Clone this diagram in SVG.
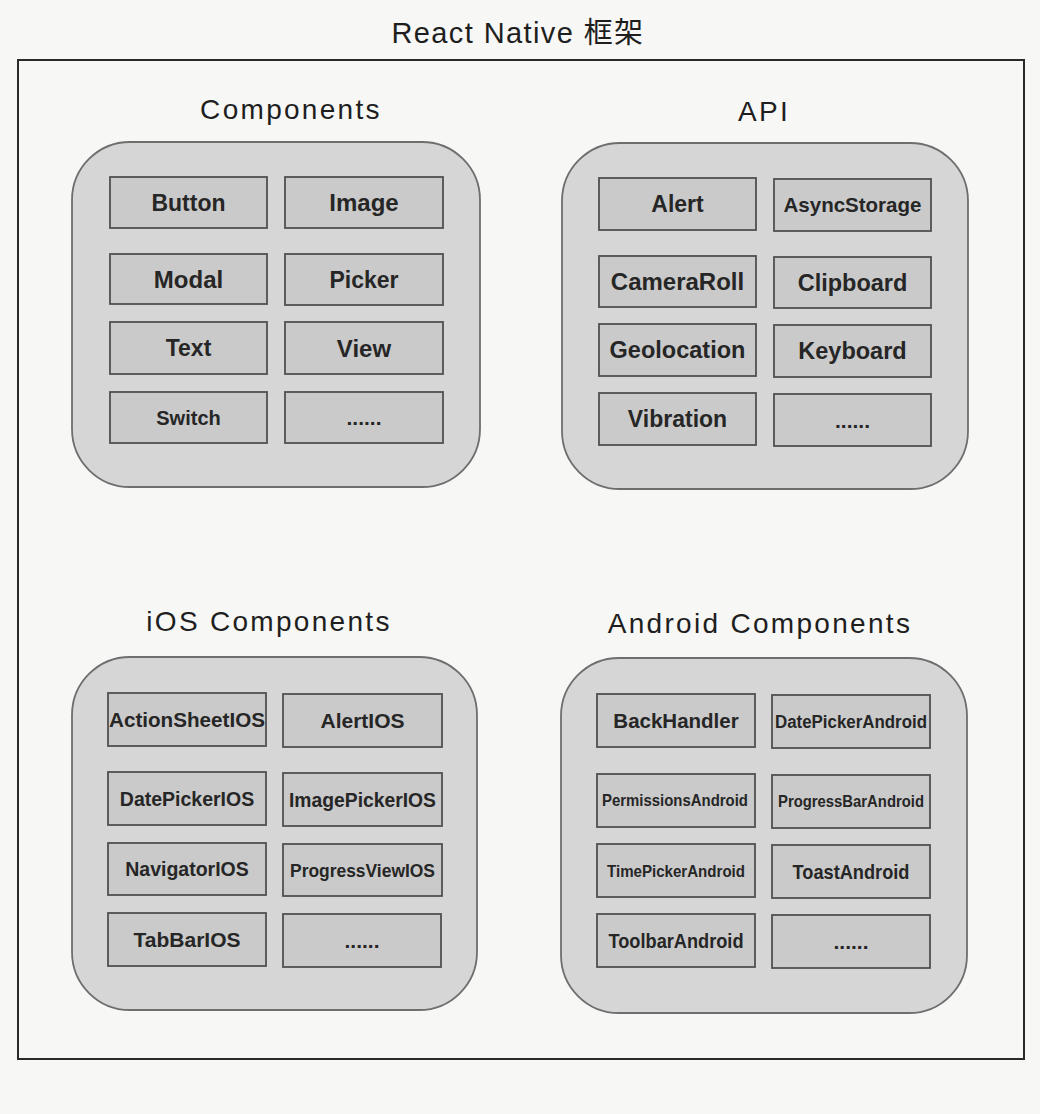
<svg xmlns="http://www.w3.org/2000/svg" width="1040" height="1114" viewBox="0 0 1040 1114">
<style>
.page{fill:#f7f7f5}
.frame{fill:none;stroke:#2a2a2a;stroke-width:2}
.title{font-family:"Liberation Sans","Noto Sans CJK SC",Arial,sans-serif;font-size:29px;fill:#1e1e1e;text-anchor:middle;letter-spacing:1.4px}
.head{font-family:"Liberation Sans",Arial,sans-serif;font-size:28px;fill:#1e1e1e;text-anchor:middle;letter-spacing:2.3px}
.grp{fill:#d6d6d6;stroke:#6e6e6e;stroke-width:1.8}
.box{fill:#cacaca;stroke:#505050;stroke-width:1.8}
.lbl{font-family:"Liberation Sans",Arial,sans-serif;font-weight:bold;fill:#262626;text-anchor:middle}
</style>
<rect class="page" x="0" y="0" width="1040" height="1114"/>
<text class="title" x="518" y="43">React Native 框架</text>
<rect id="framework" class="frame" x="18" y="60" width="1006" height="999"/>
<g id="connectors"/>

<g id="components">
<text class="head" x="291" y="119">Components</text>
<rect class="grp" x="72" y="142" width="408" height="345" rx="58"/>
<g id="c-button"><rect class="box" x="110" y="177" width="157" height="51"/><text class="lbl" x="188.5" y="210.8" font-size="23">Button</text></g>
<g id="c-image"><rect class="box" x="285" y="177" width="158" height="51"/><text class="lbl" x="364" y="211" font-size="24">Image</text></g>
<g id="c-modal"><rect class="box" x="110" y="254" width="157" height="50"/><text class="lbl" x="188.5" y="287.6" font-size="24">Modal</text></g>
<g id="c-picker"><rect class="box" x="285" y="254" width="158" height="51"/><text class="lbl" x="364" y="287.8" font-size="23">Picker</text></g>
<g id="c-text"><rect class="box" x="110" y="322" width="157" height="52"/><text class="lbl" x="188.5" y="356.2" font-size="23">Text</text></g>
<g id="c-view"><rect class="box" x="285" y="322" width="158" height="52"/><text class="lbl" x="364" y="356.6" font-size="24">View</text></g>
<g id="c-switch"><rect class="box" x="110" y="392" width="157" height="51"/><text class="lbl" x="188.5" y="424.7" font-size="20">Switch</text></g>
<g id="c-more"><rect class="box" x="285" y="392" width="158" height="51"/><text class="lbl" x="364" y="424.7" font-size="21">......</text></g>
</g>

<g id="api">
<text class="head" x="764" y="121">API</text>
<rect class="grp" x="562" y="143" width="406" height="346" rx="58"/>
<g id="a-alert"><rect class="box" x="599" y="178" width="157" height="52"/><text class="lbl" x="677.5" y="212.2" font-size="23">Alert</text></g>
<g id="a-asyncstorage"><rect class="box" x="774" y="179" width="157" height="52"/><text class="lbl" x="852.5" y="212.3" font-size="20.5">AsyncStorage</text></g>
<g id="a-cameraroll"><rect class="box" x="599" y="256" width="157" height="51"/><text class="lbl" x="677.5" y="290.1" font-size="24">CameraRoll</text></g>
<g id="a-clipboard"><rect class="box" x="774" y="257" width="157" height="51"/><text class="lbl" x="852.5" y="290.9" font-size="23.5">Clipboard</text></g>
<g id="a-geolocation"><rect class="box" x="599" y="324" width="157" height="52"/><text class="lbl" x="677.5" y="358.4" font-size="23.5">Geolocation</text></g>
<g id="a-keyboard"><rect class="box" x="774" y="325" width="157" height="52"/><text class="lbl" x="852.5" y="359.4" font-size="23.5">Keyboard</text></g>
<g id="a-vibration"><rect class="box" x="599" y="393" width="157" height="52"/><text class="lbl" x="677.5" y="427.2" font-size="23">Vibration</text></g>
<g id="a-more"><rect class="box" x="774" y="394" width="157" height="52"/><text class="lbl" x="852.5" y="427.5" font-size="21">......</text></g>
</g>

<g id="ios-components">
<text class="head" x="269" y="631">iOS Components</text>
<rect class="grp" x="72" y="657" width="405" height="353" rx="58"/>
<g id="i-actionsheetios"><rect class="box" x="108" y="693" width="158" height="53"/><text class="lbl" x="187" y="727" font-size="20.5" textLength="156" lengthAdjust="spacingAndGlyphs">ActionSheetIOS</text></g>
<g id="i-alertios"><rect class="box" x="283" y="694" width="159" height="53"/><text class="lbl" x="362.5" y="728" font-size="21">AlertIOS</text></g>
<g id="i-datepickerios"><rect class="box" x="108" y="772" width="158" height="53"/><text class="lbl" x="187" y="805.5" font-size="19.5">DatePickerIOS</text></g>
<g id="i-imagepickerios"><rect class="box" x="283" y="773" width="159" height="53"/><text class="lbl" x="362.5" y="806.5" font-size="19.5" textLength="147" lengthAdjust="spacingAndGlyphs">ImagePickerIOS</text></g>
<g id="i-navigatorios"><rect class="box" x="108" y="843" width="158" height="52"/><text class="lbl" x="187" y="876" font-size="19.5">NavigatorIOS</text></g>
<g id="i-progressviewios"><rect class="box" x="283" y="844" width="159" height="52"/><text class="lbl" x="362.5" y="876.5" font-size="18" textLength="145" lengthAdjust="spacingAndGlyphs">ProgressViewIOS</text></g>
<g id="i-tabbarios"><rect class="box" x="108" y="913" width="158" height="53"/><text class="lbl" x="187" y="947" font-size="21">TabBarIOS</text></g>
<g id="i-more"><rect class="box" x="283" y="914" width="158" height="53"/><text class="lbl" x="362" y="947.5" font-size="21">......</text></g>
</g>

<g id="android-components">
<text class="head" x="760" y="633">Android Components</text>
<rect class="grp" x="561" y="658" width="406" height="355" rx="58"/>
<g id="d-backhandler"><rect class="box" x="597" y="694" width="158" height="53"/><text class="lbl" x="676" y="727.8" font-size="20.5">BackHandler</text></g>
<g id="d-datepickerandroid"><rect class="box" x="772" y="695" width="158" height="53"/><text class="lbl" x="851" y="728" font-size="17.5" textLength="152" lengthAdjust="spacingAndGlyphs">DatePickerAndroid</text></g>
<g id="d-permissionsandroid"><rect class="box" x="597" y="774" width="158" height="53"/><text class="lbl" x="675" y="806.4" font-size="16.5" textLength="146" lengthAdjust="spacingAndGlyphs">PermissionsAndroid</text></g>
<g id="d-progressbarandroid"><rect class="box" x="772" y="775" width="158" height="53"/><text class="lbl" x="851" y="807.4" font-size="16.5" textLength="146" lengthAdjust="spacingAndGlyphs">ProgressBarAndroid</text></g>
<g id="d-timepickerandroid"><rect class="box" x="597" y="844" width="158" height="53"/><text class="lbl" x="676" y="876.6" font-size="17" textLength="138" lengthAdjust="spacingAndGlyphs">TimePickerAndroid</text></g>
<g id="d-toastandroid"><rect class="box" x="772" y="845" width="158" height="53"/><text class="lbl" x="851" y="879" font-size="21" textLength="117" lengthAdjust="spacingAndGlyphs">ToastAndroid</text></g>
<g id="d-toolbarandroid"><rect class="box" x="597" y="914" width="158" height="53"/><text class="lbl" x="676" y="947.7" font-size="20" textLength="135" lengthAdjust="spacingAndGlyphs">ToolbarAndroid</text></g>
<g id="d-more"><rect class="box" x="772" y="915" width="158" height="53"/><text class="lbl" x="851" y="948.5" font-size="21">......</text></g>
</g>
</svg>
